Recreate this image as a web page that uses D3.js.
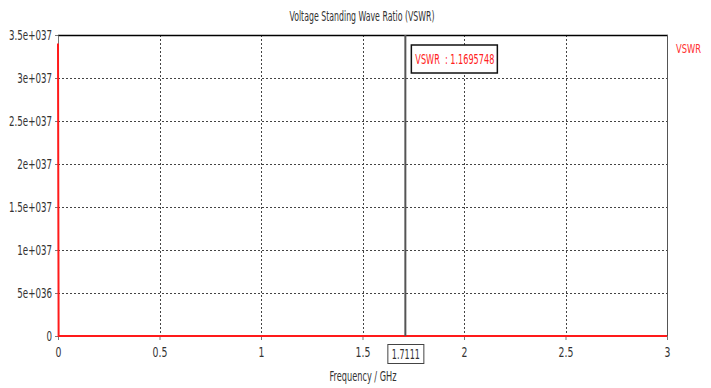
<!DOCTYPE html>
<html>
<head>
<meta charset="utf-8">
<script src="https://cdn.jsdelivr.net/npm/d3@7"></script>
<style>
  html, body { margin: 0; padding: 0; background: #fff; }
  svg text { font-family: "DejaVu Sans Condensed", "Liberation Sans", sans-serif; }
</style>
</head>
<body>
<svg id="chart" width="711" height="388"></svg>
<script>
// Frequency sweep (GHz) and VSWR values
const frequency = [0, 0.003, 0.25, 0.5, 0.75, 1.0, 1.25, 1.5, 1.7111, 2.0, 2.25, 2.5, 2.75, 3.0];
const vswr      = [3.4e37, 6.8, 4.9, 3.6, 2.9, 2.3, 1.9, 1.45, 1.1695748, 1.6, 2.1, 2.6, 3.2, 3.9];

const xTicks = [0, 0.5, 1, 1.5, 2, 2.5, 3];
const xTickLabels = ["0", "0.5", "1", "1.5", "2", "2.5", "3"];
const yTicks = [0, 5e36, 1e37, 1.5e37, 2e37, 2.5e37, 3e37, 3.5e37];
const yTickLabels = ["0", "5e+036", "1e+037", "1.5e+037", "2e+037", "2.5e+037", "3e+037", "3.5e+037"];

const markerFreq = 1.7111;
const markerValue = 1.1695748;

const title = "Voltage Standing Wave Ratio (VSWR)";
const xTitle = "Frequency / GHz";
const seriesName = "VSWR";

const svg = d3.select("#chart");
const m = { left: 58, right: 667, top: 35, bottom: 336 };

const x = d3.scaleLinear().domain([0, 3]).range([m.left, m.right]);
const y = d3.scaleLinear().domain([0, 3.5e37]).range([m.bottom, m.top]);

// the UI font is a narrow face: squeeze each label horizontally
function narrow(sel, factor) {
  sel.each(function () {
    const w = this.getComputedTextLength();
    d3.select(this).attr("textLength", w * factor).attr("lengthAdjust", "spacingAndGlyphs");
  });
}

// grid
const grid = svg.append("g").attr("stroke", "#444").attr("stroke-width", 1).attr("stroke-dasharray", "2,2");
grid.selectAll("line.v").data(xTicks.slice(1, -1)).enter().append("line")
  .attr("x1", d => Math.round(x(d)) + 0.5).attr("x2", d => Math.round(x(d)) + 0.5)
  .attr("y1", m.top).attr("y2", m.bottom);
grid.selectAll("line.h").data(yTicks.slice(1, -1)).enter().append("line")
  .attr("x1", m.left).attr("x2", m.right)
  .attr("y1", d => Math.round(y(d)) + 0.5).attr("y2", d => Math.round(y(d)) + 0.5);

// frame
svg.append("line").attr("x1", m.left).attr("x2", m.right + 1).attr("y1", m.top + 0.5).attr("y2", m.top + 0.5)
  .attr("stroke", "#000").attr("stroke-width", 1.5);
svg.append("line").attr("x1", m.right + 0.5).attr("x2", m.right + 0.5).attr("y1", m.top).attr("y2", m.bottom)
  .attr("stroke", "#555").attr("stroke-width", 1);

// axes
const xAxis = d3.axisBottom(x).tickValues(xTicks).tickFormat((d, i) => xTickLabels[i]).tickSize(4).tickSizeOuter(0);
const gx = svg.append("g").attr("transform", `translate(0,${m.bottom})`).call(xAxis);
gx.select(".domain").attr("stroke", "#777");
gx.selectAll(".tick line").attr("stroke", "#777");
gx.selectAll(".tick text").attr("font-size", 14).attr("fill", "#333").attr("y", 8).attr("dy", "0.95em")
  .call(narrow, 0.74);

const yAxis = d3.axisLeft(y).tickValues(yTicks).tickFormat((d, i) => yTickLabels[i]).tickSize(3).tickSizeOuter(0);
const gy = svg.append("g").attr("transform", `translate(${m.left},0)`).call(yAxis);
gy.select(".domain").attr("stroke", "#777");
gy.selectAll(".tick line").attr("stroke", "#777");
gy.selectAll(".tick text").attr("font-size", 14).attr("fill", "#333").attr("x", -6)
  .call(narrow, 0.69);

// series
const line = d3.line().x((d, i) => x(frequency[i])).y(d => y(d));
svg.append("path").datum(vswr).attr("d", line)
  .attr("fill", "none").attr("stroke", "#ff1a1a").attr("stroke-width", 2);

// marker line
svg.append("line").attr("x1", x(markerFreq)).attr("x2", x(markerFreq))
  .attr("y1", m.top).attr("y2", m.bottom)
  .attr("stroke", "#555").attr("stroke-width", 2);

// marker readout box
const bx = x(markerFreq) + 6;
svg.append("rect").attr("x", bx).attr("y", 45).attr("width", 86).attr("height", 28)
  .attr("fill", "#fff").attr("stroke", "#111").attr("stroke-width", 1.5);
svg.append("text").attr("x", bx + 4).attr("y", 64).attr("font-size", 14).attr("fill", "#ff2020")
  .attr("textLength", 79).attr("lengthAdjust", "spacingAndGlyphs")
  .text(`${seriesName}\u00a0\u00a0: ${markerValue}`);

// marker frequency label on axis
const lx = x(markerFreq);
svg.append("rect").attr("x", lx - 17.5).attr("y", 344.5).attr("width", 36).attr("height", 19)
  .attr("fill", "#fff").attr("stroke", "#444").attr("stroke-width", 1);
svg.append("text").attr("x", lx + 0.5).attr("y", 359).attr("text-anchor", "middle")
  .attr("font-size", 14).attr("fill", "#333")
  .attr("textLength", 28).attr("lengthAdjust", "spacingAndGlyphs")
  .text(markerFreq.toFixed(4));

// titles and legend
svg.append("text").attr("x", 362).attr("y", 21).attr("text-anchor", "middle")
  .attr("font-size", 14).attr("fill", "#333")
  .attr("textLength", 145).attr("lengthAdjust", "spacingAndGlyphs").text(title);
svg.append("text").attr("x", 363).attr("y", 381).attr("text-anchor", "middle")
  .attr("font-size", 14).attr("fill", "#333")
  .attr("textLength", 67).attr("lengthAdjust", "spacingAndGlyphs").text(xTitle);
svg.append("text").attr("x", 676).attr("y", 53)
  .attr("font-size", 12.5).attr("fill", "#ff3030")
  .attr("textLength", 25).attr("lengthAdjust", "spacingAndGlyphs").text(seriesName);
</script>
</body>
</html>
